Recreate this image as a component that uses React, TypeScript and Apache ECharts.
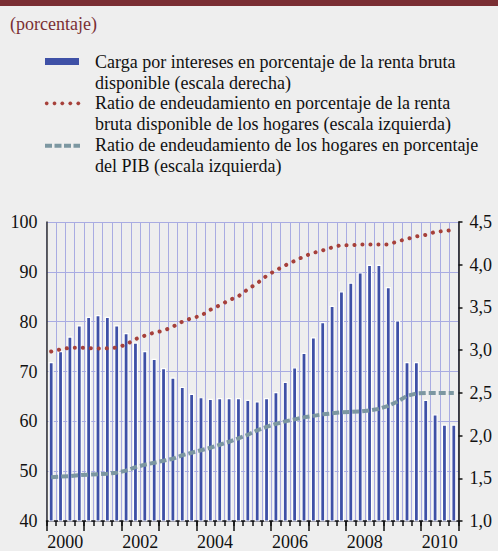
import React, { useEffect, useRef } from "react";
import * as echarts from "echarts";

const years = ["2000", "2001", "2002", "2003", "2004", "2005", "2006", "2007", "2008", "2009", "2010"];
const quarters: string[] = [];
for (const y of years) for (let q = 1; q <= 4; q++) quarters.push(`${y}T${q}`);

const rightTicks = [1.0, 1.5, 2.0, 2.5, 3.0, 3.5, 4.0, 4.5];

// Carga por intereses (% renta bruta disponible) - escala derecha
const cargaIntereses = [
  2.86, 2.99, 3.16, 3.29, 3.39, 3.41, 3.39, 3.29,
  3.2, 3.09, 2.99, 2.9, 2.79, 2.68, 2.57, 2.49,
  2.45, 2.43, 2.44, 2.44, 2.44, 2.42, 2.4, 2.44,
  2.51, 2.63, 2.8, 2.97, 3.15, 3.33, 3.52, 3.69,
  3.79, 3.91, 4.0, 4.0, 3.74, 3.35, 2.86, 2.86,
  2.42, 2.25, 2.13, 2.13,
];

// Ratio de endeudamiento (% renta bruta disponible) - escala izquierda
const ratioRenta = [
  74.0, 74.45, 74.75, 74.8, 74.7, 74.6, 74.65, 74.8,
  75.4, 76.5, 77.2, 77.8, 78.2, 79.0, 80.0, 80.7,
  81.2, 82.4, 83.3, 84.3, 85.1, 86.5, 87.7, 89.2,
  90.3, 91.3, 92.2, 93.1, 93.8, 94.3, 94.9, 95.4,
  95.3, 95.5, 95.5, 95.5, 95.5, 96.1, 96.6, 97.1,
  97.4, 98.0, 98.2, 98.4,
];

// Ratio de endeudamiento (% PIB) - escala izquierda
const ratioPIB = [
  48.8, 48.9, 49.0, 49.2, 49.3, 49.4, 49.5, 49.7,
  50.1, 50.8, 51.3, 51.7, 52.1, 52.5, 53.2, 53.7,
  54.2, 54.7, 55.3, 55.9, 56.6, 57.3, 58.2, 58.9,
  59.5, 60.0, 60.4, 60.8, 61.1, 61.4, 61.6, 61.8,
  61.9, 62.0, 62.2, 62.5, 63.1, 64.0, 65.1, 65.6,
  65.7, 65.7, 65.7, 65.7,
];

const legendLines = [
  "Carga por intereses en porcentaje de la renta bruta",
  "disponible (escala derecha)",
  "Ratio de endeudamiento en porcentaje de la renta",
  "bruta disponible de los hogares (escala izquierda)",
  "Ratio de endeudamiento de los hogares en porcentaje",
  "del PIB (escala izquierda)",
];

const SERIF = '"Liberation Serif", "Times New Roman", serif';
const BLUE = "#3E50A6";
const RED = "#A6403A";
const GREY = "#7C97A1";
const GRID = "#A9ACE2";
const DARKRED = "#7A2E33";

export default function App() {
  const ref = useRef<HTMLDivElement>(null);
  useEffect(() => {
    if (!ref.current) return;
    const chart = echarts.init(ref.current, null, { renderer: "svg" });
    const legendY = [61.7, 82.5, 103.3, 124, 145, 165.7];
    const graphics: any[] = [
      { type: "rect", shape: { x: 0, y: 0, width: 498, height: 6 }, style: { fill: DARKRED } },
      {
        type: "text",
        style: { text: "(porcentaje)", x: 10, y: 23.5, fill: DARKRED, font: `18px ${SERIF}`, verticalAlign: "middle" },
      },
      { type: "rect", shape: { x: 45, y: 58, width: 34, height: 7 }, style: { fill: BLUE } },
      {
        type: "line",
        shape: { x1: 45, y1: 145.7, x2: 80, y2: 145.7 },
        style: { stroke: GREY, lineWidth: 4, lineDash: [7, 2.5] },
      },
    ];
    [46.7, 54.5, 62.3, 70.3, 78.3].forEach((cx) =>
      graphics.push({ type: "circle", shape: { cx, cy: 103.3, r: 1.9 }, style: { fill: RED } })
    );
    legendLines.forEach((t, i) =>
      graphics.push({
        type: "text",
        style: { text: t, x: 95, y: legendY[i], fill: "#111", font: `18px ${SERIF}`, verticalAlign: "middle" },
      })
    );

    chart.setOption({
      animation: false,
      backgroundColor: "#EEEEEE",
      graphic: graphics,
      grid: { left: 46.5, right: 39.5, top: 222, bottom: 29, containLabel: false },
      xAxis: [
        {
          type: "category",
          data: quarters,
          boundaryGap: true,
          axisLine: { show: true, lineStyle: { color: "#111", width: 1.5 } },
          axisTick: { show: true, interval: 0, length: 5, lineStyle: { color: "#111", width: 1.5 } },
          axisLabel: { show: false },
          splitLine: { show: true, interval: 0, lineStyle: { color: GRID, width: 1 } },
        },
        {
          type: "category",
          data: years,
          position: "bottom",
          boundaryGap: true,
          axisLine: { show: false },
          axisTick: { show: true, interval: 0, length: 10, lineStyle: { color: "#111", width: 1.5 } },
          axisLabel: { interval: 1, margin: 12, fontSize: 18, fontFamily: SERIF, color: "#111" },
          splitLine: { show: false },
        },
      ],
      yAxis: [
        {
          type: "value",
          min: 40,
          max: 100,
          interval: 10,
          position: "left",
          axisLine: { show: true, lineStyle: { color: "#333", width: 1.5 } },
          axisTick: { show: false },
          axisLabel: { margin: 9, fontSize: 18, fontFamily: SERIF, color: "#111" },
          splitLine: { show: true, lineStyle: { color: GRID, width: 1 } },
        },
        {
          type: "value",
          min: rightTicks[0],
          max: rightTicks[rightTicks.length - 1],
          interval: 0.5,
          position: "right",
          axisLine: { show: true, lineStyle: { color: "#111", width: 1.5 } },
          axisTick: { show: true, inside: false, length: 4, lineStyle: { color: "#111", width: 1.5 } },
          axisLabel: {
            margin: 11,
            fontSize: 18,
            fontFamily: SERIF,
            color: "#111",
            formatter: (v: number) => v.toFixed(1).replace(".", ","),
          },
          splitLine: { show: false },
        },
      ],
      series: [
        {
          type: "bar",
          xAxisIndex: 0,
          yAxisIndex: 1,
          data: cargaIntereses,
          barWidth: 5.2,
          itemStyle: { color: BLUE, borderColor: "#FFFFFF", borderWidth: 1.2 },
          z: 2,
        },
        {
          type: "line",
          xAxisIndex: 0,
          yAxisIndex: 0,
          data: ratioPIB,
          symbol: "none",
          lineStyle: { color: GREY, width: 4, type: [7, 3] },
          z: 3,
        },
        {
          type: "line",
          xAxisIndex: 0,
          yAxisIndex: 0,
          data: ratioRenta,
          symbol: "none",
          lineStyle: { color: RED, width: 4, type: [0.1, 7.9], cap: "round" },
          z: 4,
        },
      ],
    });
    return () => chart.dispose();
  }, []);
  return <div ref={ref} style={{ position: "absolute", left: 0, top: 0, width: 498, height: 551 }} />;
}
